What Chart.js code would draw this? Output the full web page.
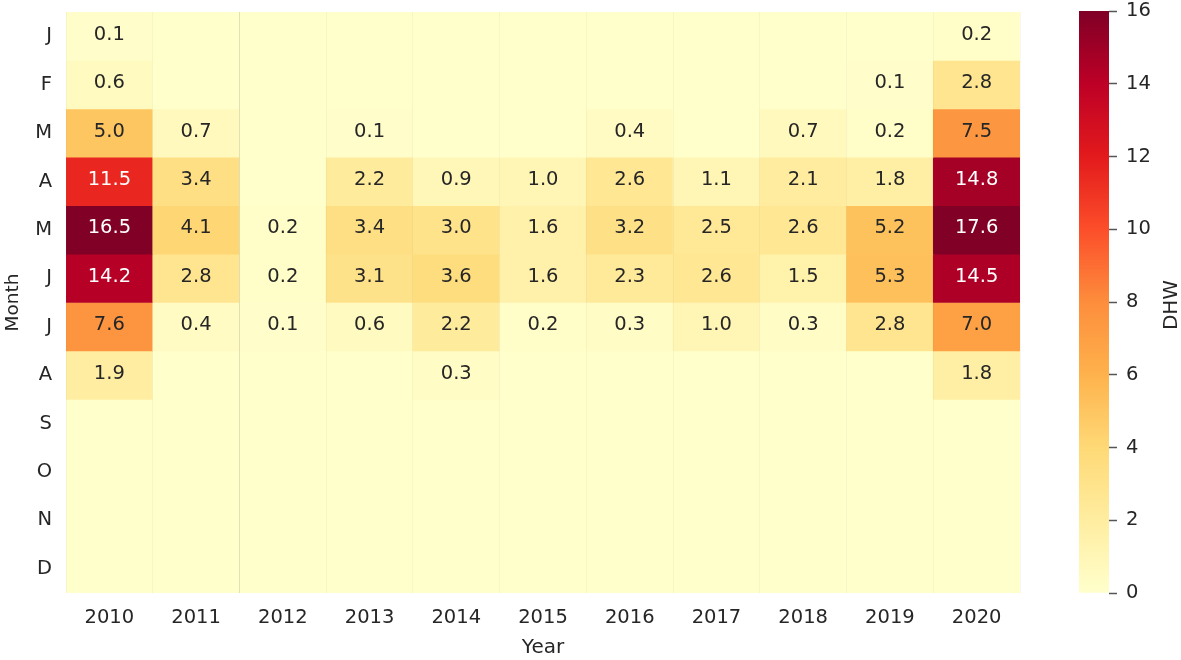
<!DOCTYPE html>
<html>
<head>
<meta charset="utf-8">
<title>DHW heatmap</title>
<script src="https://cdn.jsdelivr.net/npm/chart.js@4"></script>
<style>
  html, body { margin: 0; padding: 0; background: #fff; }
  #wrap { position: relative; width: 1181px; height: 660px; overflow: hidden; }
  canvas { position: absolute; top: 0; }
  #heatmap { left: 0; }
  #colorbar { left: 1060px; }
</style>
</head>
<body>
<div id="wrap">
  <canvas id="heatmap" width="1060" height="660"></canvas>
  <canvas id="colorbar" width="121" height="660"></canvas>
</div>
<script>
// ====================================================================
// DATA
// ====================================================================
const years = ['2010', '2011', '2012', '2013', '2014', '2015', '2016', '2017', '2018', '2019', '2020'];
const months = ['J', 'F', 'M', 'A', 'M', 'J', 'J', 'A', 'S', 'O', 'N', 'D'];

const dhwJan = [0.1, null, null, null, null, null, null, null, null, null, 0.2];
const dhwFeb = [0.6, null, null, null, null, null, null, null, null, 0.1, 2.8];
const dhwMar = [5.0, 0.7, null, 0.1, null, null, 0.4, null, 0.7, 0.2, 7.5];
const dhwApr = [11.5, 3.4, null, 2.2, 0.9, 1.0, 2.6, 1.1, 2.1, 1.8, 14.8];
const dhwMay = [16.5, 4.1, 0.2, 3.4, 3.0, 1.6, 3.2, 2.5, 2.6, 5.2, 17.6];
const dhwJun = [14.2, 2.8, 0.2, 3.1, 3.6, 1.6, 2.3, 2.6, 1.5, 5.3, 14.5];
const dhwJul = [7.6, 0.4, 0.1, 0.6, 2.2, 0.2, 0.3, 1.0, 0.3, 2.8, 7.0];
const dhwAug = [1.9, null, null, null, 0.3, null, null, null, null, null, 1.8];
const dhwSep = [null, null, null, null, null, null, null, null, null, null, null];
const dhwOct = [null, null, null, null, null, null, null, null, null, null, null];
const dhwNov = [null, null, null, null, null, null, null, null, null, null, null];
const dhwDec = [null, null, null, null, null, null, null, null, null, null, null];
const dhwRows = [dhwJan, dhwFeb, dhwMar, dhwApr, dhwMay, dhwJun, dhwJul, dhwAug, dhwSep, dhwOct, dhwNov, dhwDec];

const colorbarRange = [[0, 16]];
const colorbarLabels = ['DHW'];

// YlOrRd
const ramp = ['#ffffcc', '#ffeda0', '#fed976', '#feb24c', '#fd8d3c', '#fc4e2a', '#e31a1c', '#bd0026', '#800026'];
const maxDhw = 16;

const textColor = '#262626';
const fontFamily = '"DejaVu Sans", sans-serif';

function hexToRgb(hex) {
  return [1, 3, 5].map(i => parseInt(hex.slice(i, i + 2), 16));
}

function dhwColor(value) {
  const t = Math.min(Math.max((value || 0) / maxDhw, 0), 1) * (ramp.length - 1);
  const i = Math.min(Math.floor(t), ramp.length - 2);
  const a = hexToRgb(ramp[i]);
  const b = hexToRgb(ramp[i + 1]);
  const mix = a.map((c, k) => Math.round(c + (b[k] - c) * (t - i)));
  return `rgb(${mix[0]}, ${mix[1]}, ${mix[2]})`;
}

// writes the value in the middle of each filled cell
const cellLabels = {
  id: 'cellLabels',
  afterDatasetsDraw(chart) {
    const ctx = chart.ctx;
    ctx.save();
    ctx.font = `19.5px ${fontFamily}`;
    ctx.textAlign = 'center';
    ctx.textBaseline = 'middle';
    dhwRows.forEach((row, r) => {
      const bars = chart.getDatasetMeta(r).data;
      row.forEach((value, c) => {
        if (value === null) return;
        const p = bars[c].getCenterPoint();
        ctx.fillStyle = value > 10 ? '#ffffff' : textColor;
        ctx.fillText(value.toFixed(1), p.x, p.y - 1.5);
      });
    });
    ctx.restore();
  }
};

// chart.js turns a right hand title top to bottom, this one reads upwards
const colorbarTitle = {
  id: 'colorbarTitle',
  afterDraw(chart) {
    const ctx = chart.ctx;
    const area = chart.chartArea;
    ctx.save();
    ctx.translate(112, (area.top + area.bottom) / 2 + 3);
    ctx.rotate(-Math.PI / 2);
    ctx.font = `20px ${fontFamily}`;
    ctx.fillStyle = textColor;
    ctx.textAlign = 'center';
    ctx.textBaseline = 'middle';
    ctx.fillText('DHW', 0, 0);
    ctx.restore();
  }
};

new Chart(document.getElementById('heatmap').getContext('2d'), {
  type: 'bar',
  data: {
    labels: years,
    datasets: dhwRows.map((row, r) => ({
      label: months[r],
      // every cell is one month tall, the colour carries the value
      data: row.map(() => 1),
      backgroundColor: row.map(dhwColor),
      borderWidth: 0,
      barPercentage: 1,
      categoryPercentage: 1
    }))
  },
  options: {
    responsive: false,
    animation: false,
    layout: { padding: { top: 12, right: 40, bottom: 0, left: 0 } },
    plugins: { legend: { display: false }, tooltip: { enabled: false } },
    scales: {
      x: {
        stacked: true,
        afterFit: scale => { scale.height = 67; scale.paddingLeft = 0; scale.paddingRight = 0; },
        border: { display: false },
        grid: {
          z: 1,
          drawTicks: false,
          color: ctx => ctx.index === 2 ? 'rgba(120, 120, 90, 0.22)' : 'rgba(120, 120, 90, 0.06)'
        },
        ticks: { color: textColor, font: { family: fontFamily, size: 19.5 }, padding: 13, maxRotation: 0 },
        title: { display: true, text: 'Year', color: textColor, font: { family: fontFamily, size: 20 }, padding: { top: 0, bottom: 0 } }
      },
      y: {
        stacked: true,
        reverse: true,
        min: 0,
        max: 12,
        afterFit: scale => { scale.width = 66; scale.paddingTop = 0; scale.paddingBottom = 0; },
        afterBuildTicks: scale => { scale.ticks = months.map((m, i) => ({ value: i + 0.5 })); },
        border: { display: false },
        grid: { display: false, drawTicks: false },
        ticks: {
          autoSkip: false,
          color: textColor,
          font: { family: fontFamily, size: 19.5 },
          padding: 14,
          callback: value => months[Math.floor(value)]
        },
        title: { display: true, text: 'Month', color: textColor, font: { family: fontFamily, size: 18.5 }, padding: { top: 2, bottom: 0 } }
      }
    }
  },
  plugins: [cellLabels]
});

function colorbarGradient(ctx) {
  const area = ctx.chart.chartArea;
  if (!area) return ramp[0];
  const g = ctx.chart.ctx.createLinearGradient(0, area.bottom, 0, area.top);
  ramp.forEach((c, i) => g.addColorStop(i / (ramp.length - 1), c));
  return g;
}

new Chart(document.getElementById('colorbar').getContext('2d'), {
  type: 'bar',
  data: {
    labels: colorbarLabels,
    datasets: [{
      data: colorbarRange,
      backgroundColor: colorbarGradient,
      borderWidth: 0,
      barPercentage: 1,
      categoryPercentage: 1
    }]
  },
  options: {
    responsive: false,
    animation: false,
    layout: { padding: { top: 11, right: 0, bottom: 67, left: 19 } },
    plugins: { legend: { display: false }, tooltip: { enabled: false } },
    scales: {
      x: { display: false },
      y: {
        position: 'right',
        min: 0,
        max: maxDhw,
        afterFit: scale => { scale.width = 72; scale.paddingTop = 0; scale.paddingBottom = 0; },
        border: { display: false },
        grid: { drawOnChartArea: false, tickLength: 8, tickColor: '#555', tickWidth: 1.5 },
        ticks: { stepSize: 2, color: textColor, font: { family: fontFamily, size: 19.5 }, padding: 9 }
      }
    }
  },
  plugins: [colorbarTitle]
});
</script>
</body>
</html>
